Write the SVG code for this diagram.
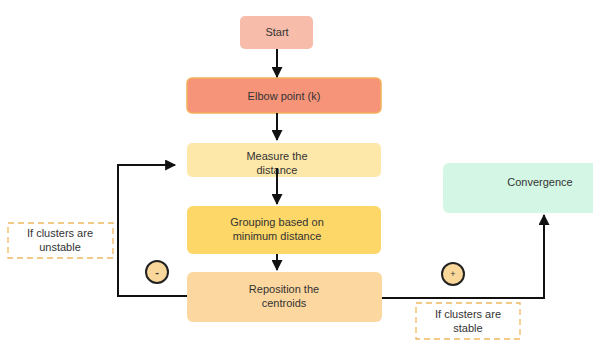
<svg xmlns="http://www.w3.org/2000/svg" width="593" height="345" viewBox="0 0 593 345">
<style>
text{font-family:"Liberation Sans",Arial,sans-serif;font-size:11px;fill:#333;text-anchor:middle}
.c{stroke:#111;stroke-width:2;fill:none}
.lbl{fill:#fff;stroke:#f0b860;stroke-width:1.3;stroke-dasharray:6 4}
.sym{fill:#f9d79a;stroke:#222;stroke-width:2}
</style>
<defs>
<marker id="ah" viewBox="0 0 10 10" refX="9" refY="5" markerWidth="12" markerHeight="11" markerUnits="userSpaceOnUse" orient="auto">
<path d="M0,0 L10,5 L0,10 z" fill="#111"/>
</marker>
</defs>
<rect width="593" height="345" fill="#fff"/>
<g id="start">
<rect x="240" y="16" width="73" height="33" rx="5" fill="#f8bcaa"/>
<text x="277" y="36">Start</text>
</g>
<g id="elbow">
<rect x="187" y="78" width="194" height="35" rx="5" fill="#f6947a" stroke="#f2b05a" stroke-width="1.5"/>
<text x="284" y="100">Elbow point (k)</text>
</g>
<g id="measure">
<rect x="187" y="143" width="194" height="34" rx="5" fill="#fde8aa"/>
<text x="277" y="160">Measure the</text>
<text x="277" y="174">distance</text>
</g>
<g id="grouping">
<rect x="187" y="206" width="194" height="48" rx="6" fill="#fdd767"/>
<text x="277" y="226">Grouping based on</text>
<text x="277" y="240">minimum distance</text>
</g>
<g id="reposition">
<rect x="187" y="272" width="195" height="50" rx="6" fill="#fcd79f"/>
<text x="284" y="293">Reposition the</text>
<text x="284" y="307">centroids</text>
</g>
<g id="convergence">
<rect x="443" y="163" width="160" height="50" rx="6" fill="#d3f7e4"/>
<text x="540" y="186">Convergence</text>
</g>
<g id="unstable">
<rect class="lbl" x="8" y="223" width="105" height="35"/>
<text x="60" y="237">If clusters are</text>
<text x="60" y="251">unstable</text>
</g>
<g id="minus">
<circle class="sym" cx="157" cy="272" r="11"/>
<text x="157" y="276" style="font-weight:bold">-</text>
</g>
<g id="plus">
<circle class="sym" cx="453" cy="274" r="11"/>
<text x="453" y="277" style="font-size:9px">+</text>
</g>
<g id="stable">
<rect class="lbl" x="416" y="303" width="104" height="36"/>
<text x="468" y="318">If clusters are</text>
<text x="468" y="332">stable</text>
</g>
<g id="connectors">
<line class="c" x1="277" y1="49" x2="277" y2="77" marker-end="url(#ah)"/>
<line class="c" x1="277" y1="113" x2="277" y2="140" marker-end="url(#ah)"/>
<line class="c" x1="277" y1="168" x2="277" y2="204" marker-end="url(#ah)"/>
<line class="c" x1="277" y1="254" x2="277" y2="270" marker-end="url(#ah)"/>
<polyline class="c" points="187,296 118,296 118,165 175,165" marker-end="url(#ah)"/>
<polyline class="c" points="382,298 544,298 544,215" marker-end="url(#ah)"/>
</g>
</svg>
